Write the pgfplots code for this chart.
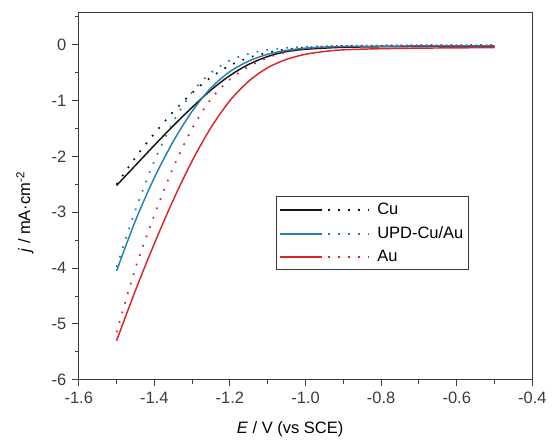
\documentclass[border=0pt]{standalone}
\usepackage{pgfplots}
\pgfplotsset{compat=1.18}
\usepackage{fontspec}
\setmainfont{Liberation Sans}

\definecolor{cuBlack}{RGB}{20,20,20}
\definecolor{updBlue}{RGB}{38,128,180}
\definecolor{auRed}{RGB}{214,40,44}
\definecolor{axGray}{RGB}{60,60,60}

\tikzset{
  dotline/.style={dash pattern=on 1.3pt off 6.2pt, line width=1.3pt},
}
\newcommand{\pairimage}[1]{%
  \addlegendimage{legend image code/.code={%
    \draw[#1, solid, line width=1.5pt] (0pt,0pt) -- (31.5pt,0pt);
    \draw[#1, dotline, line width=1.5pt] (36pt,0pt) -- (67pt,0pt);
    \path[draw=none] (0pt,0pt) -- (71pt,0pt);}}%
}

\begin{document}
\fontsize{12.4}{15}\selectfont
\begin{tikzpicture}
\begin{axis}[
    name=ax,
    scale only axis,
    width=341.25pt,
    height=276pt,
    xmin=-1.6, xmax=-0.4,
    ymin=-6, ymax=0.57,
    xtick={-1.6,-1.4,-1.2,-1.0,-0.8,-0.6,-0.4},
    minor xtick={-1.5,-1.3,-1.1,-0.9,-0.7,-0.5},
    ytick={-6,-5,-4,-3,-2,-1,0},
    minor ytick={-5.5,-4.5,-3.5,-2.5,-1.5,-0.5,0.5},
    tick pos=left,
    tick align=outside,
    major tick length=5pt,
    minor tick length=2.8pt,
    every tick/.style={axGray, line width=0.8pt},
    axis line style={axGray, line width=0.8pt},
    /pgf/number format/assume math mode=true,
    x tick label style={/pgf/number format/.cd, fixed, fixed zerofill, precision=1},
    tick label style={font=\fontsize{12.4}{15}\selectfont, text=axGray},
    xlabel={\textit{E} / V (vs SCE)},
    ylabel={\textit{j} / mA·cm\textsuperscript{-2}},
    every axis x label/.style={at={(axis description cs:0.466,0)}, anchor=center, yshift=-37pt, font=\fontsize{12.4}{15}\selectfont},
    every axis y label/.style={at={(axis description cs:0,0.457)}, anchor=center, rotate=90, yshift=40.5pt, font=\fontsize{12.4}{15}\selectfont},
    legend style={at={(axis description cs:0.435,0.50)}, anchor=north west,
        draw=axGray, line width=0.8pt, font=\fontsize{12.4}{15}\selectfont,
        row sep=3pt, inner xsep=2pt, inner ysep=2.6pt},
    legend cell align=left,
]
\pairimage{cuBlack}
\addlegendentry{Cu}
\pairimage{updBlue}
\addlegendentry{UPD-Cu/Au}
\pairimage{auRed}
\addlegendentry{Au}
% Cu
\addplot[cuBlack, line width=1.1pt, smooth, forget plot] coordinates {
 (-1.5,-2.52) (-1.45,-2.16) (-1.4,-1.80) (-1.35,-1.45) (-1.3,-1.12)
 (-1.25,-0.81) (-1.2,-0.55) (-1.15,-0.35) (-1.1,-0.21) (-1.05,-0.12)
 (-1.0,-0.08) (-0.95,-0.06) (-0.9,-0.045) (-0.8,-0.035) (-0.7,-0.03)
 (-0.6,-0.03) (-0.5,-0.025)
};
\addplot[cuBlack, dotline, smooth, forget plot] coordinates {
 (-1.5,-2.50) (-1.45,-2.02) (-1.4,-1.59) (-1.35,-1.20) (-1.3,-0.86)
 (-1.25,-0.58) (-1.2,-0.37) (-1.15,-0.23) (-1.1,-0.14) (-1.05,-0.08)
 (-1.0,-0.05) (-0.95,-0.03) (-0.9,-0.02) (-0.8,-0.015) (-0.7,-0.01)
 (-0.6,-0.01) (-0.5,-0.01)
};
% UPD-Cu/Au
\addplot[updBlue, line width=1.1pt, smooth, forget plot] coordinates {
 (-1.5,-4.05) (-1.45,-3.15) (-1.4,-2.38) (-1.35,-1.73) (-1.3,-1.19)
 (-1.25,-0.77) (-1.2,-0.48) (-1.15,-0.29) (-1.1,-0.17) (-1.05,-0.10)
 (-1.0,-0.06) (-0.95,-0.04) (-0.9,-0.03) (-0.8,-0.025) (-0.7,-0.02)
 (-0.6,-0.02) (-0.5,-0.02)
};
\addplot[updBlue, dotline, smooth, forget plot] coordinates {
 (-1.5,-3.98) (-1.45,-2.96) (-1.4,-2.08) (-1.35,-1.38) (-1.3,-0.85)
 (-1.25,-0.50) (-1.2,-0.28) (-1.15,-0.16) (-1.1,-0.09) (-1.05,-0.055)
 (-1.0,-0.035) (-0.95,-0.025) (-0.9,-0.02) (-0.8,-0.01) (-0.7,-0.01)
 (-0.6,-0.01) (-0.5,-0.01)
};
% Au
\addplot[auRed, line width=1.1pt, smooth, forget plot] coordinates {
 (-1.5,-5.30) (-1.45,-4.40) (-1.4,-3.56) (-1.35,-2.78) (-1.3,-2.08)
 (-1.25,-1.48) (-1.2,-1.00) (-1.15,-0.65) (-1.1,-0.41) (-1.05,-0.26)
 (-1.0,-0.17) (-0.95,-0.12) (-0.9,-0.09) (-0.8,-0.07) (-0.7,-0.06)
 (-0.6,-0.055) (-0.5,-0.05)
};
\addplot[auRed, dotline, smooth, forget plot] coordinates {
 (-1.5,-5.15) (-1.45,-4.00) (-1.4,-3.05) (-1.35,-2.20) (-1.3,-1.50)
 (-1.25,-0.97) (-1.2,-0.62) (-1.15,-0.39) (-1.1,-0.23) (-1.05,-0.13)
 (-1.0,-0.075) (-0.95,-0.045) (-0.9,-0.03) (-0.8,-0.02) (-0.7,-0.015)
 (-0.6,-0.015) (-0.5,-0.015)
};
\end{axis}
\path[use as bounding box] ([shift={(-59.25pt,-45pt)}]ax.south west) rectangle ([shift={(13.5pt,9.75pt)}]ax.north east);
\end{tikzpicture}
\end{document}
